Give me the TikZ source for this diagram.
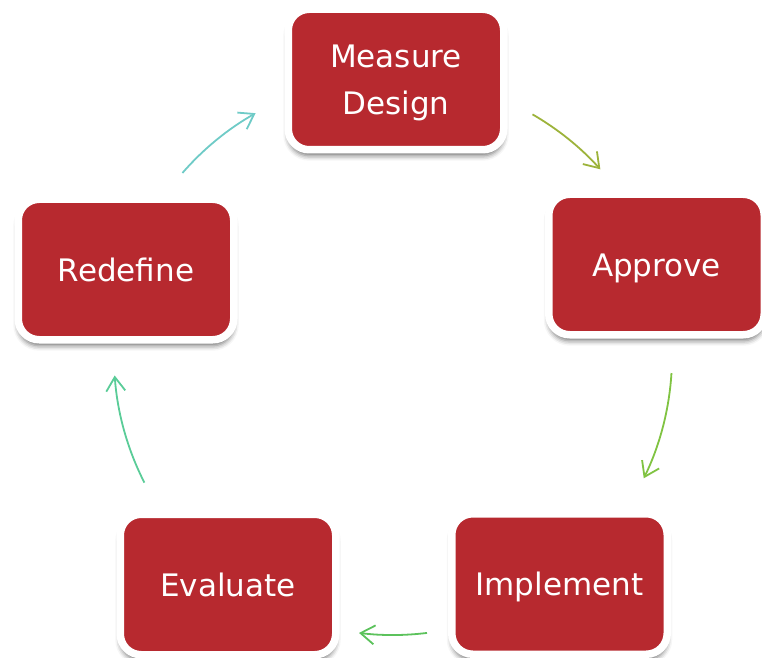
\documentclass[tikz,border=0pt]{standalone}
\usepackage{fontspec}
\setmainfont{DejaVu Sans}
\usetikzlibrary{shadows.blur,arrows.meta}
\definecolor{boxred}{HTML}{B7292F}
\definecolor{arrA}{HTML}{9DB33B}
\definecolor{arrB}{HTML}{80C342}
\definecolor{arrC}{HTML}{5CC25C}
\definecolor{arrD}{HTML}{5ACC98}
\definecolor{arrE}{HTML}{6FCBC7}
\begin{document}
\begin{tikzpicture}[x=1pt,y=1pt,
  stage/.style={rectangle, rounded corners=21pt, fill=boxred, draw=white,
    line width=7.5pt, minimum width=215.5pt, minimum height=140.5pt,
    text=white, font=\fontsize{31}{47}\selectfont, align=center,
    text height=23pt, text depth=0pt,
    blur shadow={shadow xshift=0pt, shadow yshift=-6pt, shadow blur radius=5pt, shadow opacity=55}},
  cyc/.style={line width=1.8pt, -{Straight Barb[length=14pt,width=19pt,line width=1.8pt]}}]
\useasboundingbox (0,0) rectangle (762,657);
\coordinate (c) at (393,301);
\node[stage, text height=70pt] (m) at (396,577.5) {Measure\\Design};
\node[stage] (a) at (656.5,392.5) {Approve};
\node[stage] (i) at (559.5,73) {Implement};
\node[stage] (e) at (228,72.5) {Evaluate};
\node[stage] (r) at (126,387.5) {Redefine};
\coordinate (ma) at ($(c)+(60:279)$);
\coordinate (ai) at ($(c)+(-3.5:279)$);
\coordinate (ie) at ($(c)+(-83:279)$);
\coordinate (er) at ($(c)+(207:279)$);
\coordinate (rm) at ($(c)+(139:279)$);
\draw[cyc, arrA] (ma) arc[start angle=60, end angle=42, radius=279pt];
\draw[cyc, arrB] (ai) arc[start angle=-3.5, end angle=-26, radius=279pt];
\draw[cyc, arrC] (ie) arc[start angle=-83, end angle=-97, radius=279pt];
\draw[cyc, arrD] (er) arc[start angle=207, end angle=184, radius=279pt];
\draw[cyc, arrE] (rm) arc[start angle=139, end angle=119.5, radius=279pt];
\end{tikzpicture}
\end{document}
